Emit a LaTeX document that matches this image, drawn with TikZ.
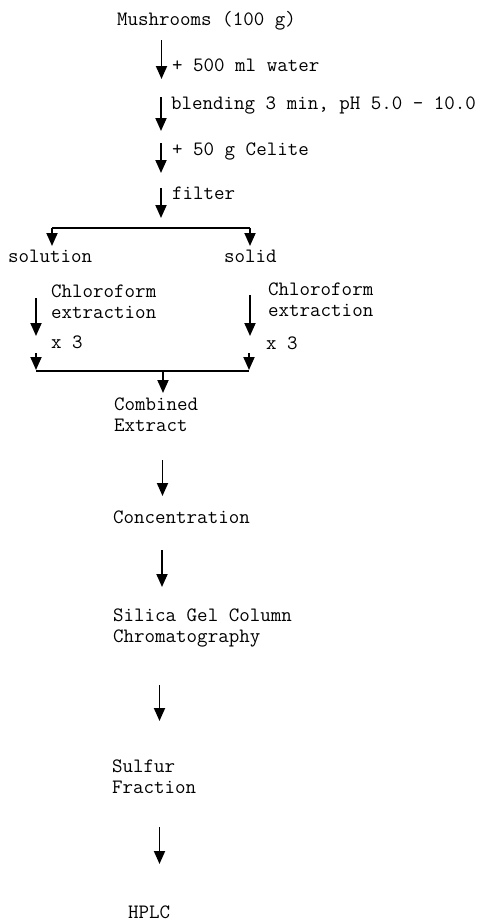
\documentclass[tikz,border=0pt]{standalone}
\usepackage{fontspec}
\usetikzlibrary{arrows.meta}
\begin{document}
\begin{tikzpicture}[x=1pt,y=-1pt,
  lbl/.style={anchor=west,inner sep=0pt,align=left,font=\fontsize{20.4}{21}\selectfont\ttfamily},
  arr/.style={line width=1.8pt,-{Triangle[width=11pt,length=13pt]}},
  ln/.style={line width=1.8pt}]
\useasboundingbox (0,0) rectangle (486,921);
% main texts
\node[lbl] (mush) at (117,21) {Mushrooms (100 g)};
\node[lbl] (water) at (172,65) {+ 500 ml water};
\node[lbl] (blend) at (171,105) {blending 3 min, pH 5.0 - 10.0};
\node[lbl] (celite) at (172,151) {+ 50 g Celite};
\node[lbl] (filter) at (172,193) {filter};
\node[lbl] (soln) at (8,256) {solution};
\node[lbl] (solid) at (224,256) {solid};
\node[lbl] (chl1) at (51,302) {Chloroform\\extraction};
\node[lbl] (x31) at (51,342) {x 3};
\node[lbl] (chl2) at (268,300) {Chloroform\\extraction};
\node[lbl] (x32) at (266,343) {x 3};
\node[lbl] (comb) at (114,415) {Combined\\Extract};
\node[lbl] (conc) at (113,517) {Concentration};
\node[lbl] (silica) at (113,628) {Silica Gel Column\\Chromatography};
\node[lbl] (sulf) at (112,777) {Sulfur\\Fraction};
\node[lbl] (hplc) at (128,912) {HPLC};
% coordinates
\coordinate (a1s) at (161.5,40); \coordinate (a1e) at (161.5,79);
\coordinate (a2s) at (161,97);   \coordinate (a2e) at (161,131);
\coordinate (a3s) at (161,143);  \coordinate (a3e) at (161,173);
\coordinate (a4s) at (161,188);  \coordinate (a4e) at (161,218);
\coordinate (bl) at (52,228);    \coordinate (br) at (250,228);
\coordinate (blE) at (52,246);   \coordinate (brE) at (250,246);
\coordinate (l1s) at (36,298);   \coordinate (l1e) at (36,336);
\coordinate (r1s) at (250,295);  \coordinate (r1e) at (250,336);
\coordinate (l2s) at (36,353);   \coordinate (l2e) at (36,370);
\coordinate (r2s) at (249,353);  \coordinate (r2e) at (249,370);
\coordinate (ml) at (36,371);    \coordinate (mr) at (249,371);
\coordinate (m) at (163,371);    \coordinate (me) at (163,393);
\coordinate (c1s) at (162.5,460); \coordinate (c1e) at (162.5,496);
\coordinate (c2s) at (162,550);  \coordinate (c2e) at (162,587);
\coordinate (c3s) at (159.5,685); \coordinate (c3e) at (159.5,721);
\coordinate (c4s) at (159.5,827); \coordinate (c4e) at (159.5,864);
% connectors
\draw[arr] (a1s) -- (a1e);
\draw[arr] (a2s) -- (a2e);
\draw[arr] (a3s) -- (a3e);
\draw[arr] (a4s) -- (a4e);
\draw[ln] (bl) -- (br);
\draw[arr] (bl) -- (blE);
\draw[arr] (br) -- (brE);
\draw[arr] (l1s) -- (l1e);
\draw[arr] (r1s) -- (r1e);
\draw[arr] (l2s) -- (l2e);
\draw[arr] (r2s) -- (r2e);
\draw[ln] (ml) -- (mr);
\draw[arr] (m) -- (me);
\draw[arr] (c1s) -- (c1e);
\draw[arr] (c2s) -- (c2e);
\draw[arr] (c3s) -- (c3e);
\draw[arr] (c4s) -- (c4e);
\end{tikzpicture}
\end{document}
